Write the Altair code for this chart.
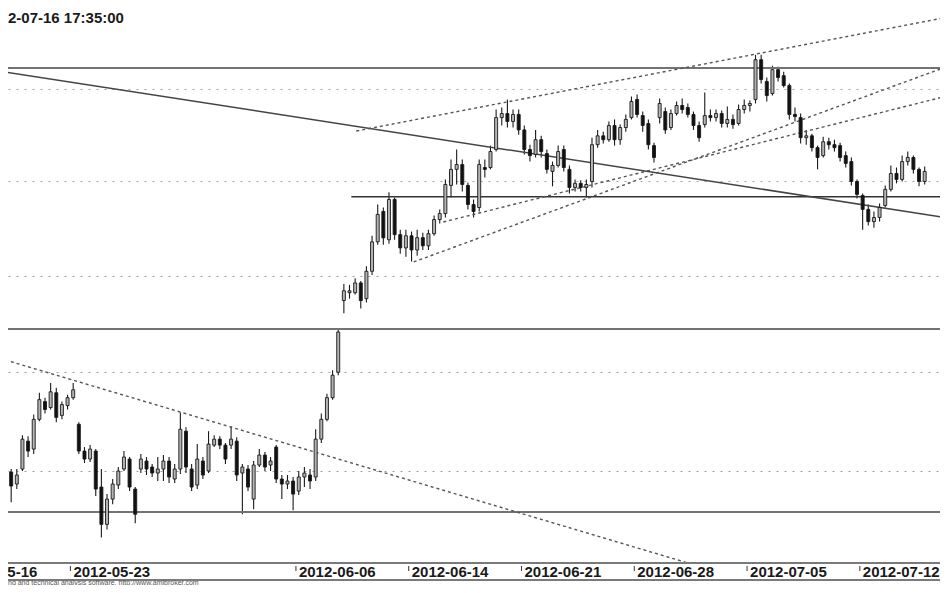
import altair as alt
import pandas as pd

# ---------------- data (intraday candles, 4 bars per trading day) ----------------
bar_index = list(range(8, 172))

open_ = [
    2116, 2099.5, 2093.5, 2101, 2115, 2111, 2126, 2135, 2132, 2139.5,
    2128, 2133, 2137, 2123.5, 2110, 2106, 2110, 2092, 2073.5, 2086,
    2093, 2101, 2106, 2091, 2101, 2105, 2102, 2099, 2101, 2105,
    2096, 2101, 2120, 2101, 2093, 2105, 2100, 2113, 2116, 2113,
    2113, 2115, 2099, 2101, 2086, 2103, 2108, 2103, 2112, 2096,
    2093.5, 2095, 2090, 2097, 2098, 2097, 2116, 2126, 2137, 2150,
    2187, 2191.1, 2191.1, 2196.2, 2188, 2202.3, 2217.8, 2233.9, 2218.9, 2240.3,
    2221.6, 2214.6, 2221.0, 2213.5, 2220.0, 2215.7, 2222.1, 2229.6, 2232.8, 2247.8,
    2256.4, 2259.0, 2247.8, 2237.6, 2236.0, 2257.4, 2257.4, 2267.1, 2284.4, 2286.6,
    2282.3, 2286.1, 2277.7, 2267.1, 2264.4, 2272.4, 2264.9, 2255.3, 2258.5, 2267.1,
    2256.4, 2246.7, 2248.9, 2246.7, 2249.9, 2269.7, 2274.5, 2272.4, 2280.1, 2272.4,
    2279.0, 2284.4, 2294.3, 2285.5, 2281.2, 2269.2, 2284.4, 2287.7, 2279.0, 2286.6,
    2291.0, 2289.9, 2286.1, 2280.1, 2280.6, 2285.5, 2284.4, 2286.6, 2281.2, 2283.4,
    2281.2, 2288.8, 2291.0, 2294.3, 2316.1, 2304.1, 2297.5, 2310.6, 2307.3, 2301.9,
    2286.1, 2284.4, 2273.5, 2274.5, 2268.1, 2263.8, 2271.3, 2269.7, 2269.2, 2263.8,
    2260.6, 2249.9, 2242.4, 2235.0, 2228.5, 2230.7, 2237.1, 2245.7, 2254.2, 2251.0,
    2260.6, 2262.8, 2256.4, 2249.9,
]

high = [
    2120, 2101, 2101, 2118, 2117.5, 2128.5, 2139.5, 2137, 2144.5, 2142,
    2135, 2138.5, 2144.5, 2124.5, 2112, 2113, 2111, 2101, 2088.5, 2096,
    2102, 2110, 2107, 2092, 2108.5, 2107, 2103.5, 2107, 2108, 2107,
    2103.5, 2129.5, 2122, 2103.5, 2113.5, 2107, 2120, 2118, 2117.5, 2114,
    2122.5, 2117, 2103.5, 2103, 2105, 2111, 2109.5, 2107, 2113, 2098,
    2098, 2097, 2100, 2102, 2101, 2121, 2129, 2139, 2151, 2172.7,
    2195.7, 2195.2, 2198.7, 2197.2, 2204.9, 2221.0, 2237.6, 2236.0, 2244.1, 2241.4,
    2224.2, 2224.2, 2223.2, 2224.2, 2222.6, 2224.2, 2231.7, 2235.0, 2251.0, 2261.7,
    2267.1, 2261.7, 2249.4, 2240.3, 2261.7, 2261.7, 2269.2, 2288.8, 2289.9, 2294.3,
    2288.8, 2288.8, 2280.1, 2269.7, 2277.7, 2274.5, 2267.1, 2260.6, 2269.2, 2269.2,
    2258.5, 2251.0, 2250.5, 2251.0, 2273.5, 2277.7, 2276.7, 2282.3, 2283.4, 2280.6,
    2286.1, 2295.9, 2297.0, 2287.7, 2283.4, 2270.8, 2294.8, 2289.9, 2288.8, 2293.2,
    2294.8, 2292.1, 2287.7, 2282.3, 2298.1, 2288.8, 2288.8, 2288.3, 2290.4, 2286.1,
    2291.5, 2294.3, 2293.7, 2318.8, 2318.8, 2306.3, 2312.8, 2312.2, 2309.5, 2303.0,
    2289.9, 2286.6, 2277.7, 2275.6, 2269.2, 2274.0, 2273.5, 2272.4, 2270.8, 2266.0,
    2262.8, 2251.0, 2243.5, 2237.6, 2233.9, 2238.2, 2247.8, 2258.5, 2257.4, 2263.8,
    2266.0, 2263.8, 2257.4, 2257.9,
]

low = [
    2103.5, 2084.5, 2091, 2100, 2107, 2108.5, 2125, 2129, 2131, 2124.5,
    2126, 2131, 2136, 2108.5, 2104, 2104.5, 2087.5, 2067, 2071, 2083.5,
    2091, 2100, 2090, 2074, 2099, 2098, 2097, 2095, 2095, 2094,
    2094, 2098.5, 2099, 2090, 2091, 2096, 2099, 2112, 2111, 2103.5,
    2111, 2095, 2078.5, 2090, 2081, 2102, 2100, 2100, 2094, 2086,
    2091, 2080.5, 2088, 2092, 2091, 2095, 2114, 2125, 2136, 2148.5,
    2180.4, 2188, 2190.1, 2182.9, 2186, 2200.3, 2216.2, 2216.2, 2216.8, 2218.9,
    2211.5, 2209.9, 2207.4, 2210.5, 2213.5, 2213.5, 2221.0, 2227.5, 2230.7, 2241.4,
    2248.3, 2244.6, 2235.0, 2230.7, 2233.9, 2252.1, 2256.4, 2266.0, 2280.1, 2279.0,
    2279.0, 2275.1, 2264.4, 2260.6, 2262.8, 2262.8, 2254.2, 2247.3, 2257.4, 2255.3,
    2243.5, 2244.6, 2244.6, 2241.4, 2246.7, 2268.1, 2270.3, 2271.3, 2269.2, 2269.7,
    2276.7, 2283.4, 2284.4, 2276.7, 2267.1, 2260.1, 2281.2, 2275.6, 2277.7, 2285.5,
    2286.6, 2284.4, 2277.7, 2271.3, 2279.0, 2282.3, 2282.3, 2279.0, 2279.0, 2278.4,
    2280.1, 2286.6, 2287.7, 2292.1, 2303.0, 2293.2, 2296.4, 2304.1, 2300.8, 2283.4,
    2282.3, 2270.3, 2269.7, 2266.0, 2256.4, 2262.8, 2267.1, 2266.0, 2260.6, 2257.4,
    2247.8, 2240.8, 2224.2, 2226.4, 2225.3, 2228.5, 2236.0, 2244.6, 2248.9, 2249.9,
    2258.5, 2254.2, 2247.3, 2248.3,
]

close = [
    2106, 2092.5, 2098, 2116, 2110, 2126, 2136, 2131, 2140, 2127,
    2133.5, 2137, 2141, 2110, 2106, 2111, 2091, 2073.5, 2086, 2093.5,
    2100, 2107, 2092, 2078.5, 2106, 2101, 2099, 2101, 2105, 2097,
    2101, 2121, 2102, 2092, 2106, 2098, 2113.5, 2116, 2113, 2106,
    2116, 2098, 2102, 2092, 2103, 2108, 2102, 2105, 2096, 2093.5,
    2095, 2088.5, 2097, 2099, 2095, 2116, 2126, 2137, 2148.5, 2170.7,
    2192.1, 2192.1, 2196.2, 2187, 2202.3, 2217.8, 2232.3, 2219.9, 2240.3, 2221.6,
    2214.6, 2221.0, 2213.5, 2220.0, 2215.7, 2222.1, 2229.6, 2232.8, 2248.3, 2256.4,
    2259.0, 2248.3, 2237.6, 2233.9, 2259.0, 2256.4, 2266.0, 2284.4, 2286.6, 2282.3,
    2286.1, 2277.7, 2267.1, 2263.8, 2272.4, 2266.0, 2256.4, 2258.5, 2266.0, 2257.4,
    2246.7, 2248.9, 2246.7, 2248.3, 2269.7, 2274.5, 2272.4, 2280.1, 2272.4, 2279.0,
    2283.4, 2293.2, 2286.1, 2280.1, 2269.7, 2262.8, 2292.1, 2277.7, 2286.6, 2291.0,
    2288.8, 2286.1, 2280.1, 2273.5, 2285.5, 2284.4, 2286.6, 2281.2, 2283.4, 2280.6,
    2288.8, 2291.0, 2292.1, 2316.1, 2305.2, 2296.4, 2310.6, 2306.3, 2301.9, 2286.1,
    2285.0, 2273.5, 2274.5, 2268.1, 2262.8, 2271.3, 2269.7, 2268.1, 2262.8, 2259.6,
    2249.9, 2243.0, 2235.0, 2228.5, 2230.7, 2236.0, 2245.7, 2254.2, 2251.0, 2260.6,
    2262.8, 2256.4, 2249.9, 2255.3,
]

# x-axis date labels (first bar of each labelled day)
date_labels = ["2012-05-16", "2012-05-23", "2012-06-06", "2012-06-14",
               "2012-06-21", "2012-06-28", "2012-07-05", "2012-07-12"]
date_bar = [-0.5, 19.5, 59.5, 79.5, 99.5, 119.5, 139.5, 159.5]

grid_prices = [2100, 2150, 2200, 2250, 2300]

# horizontal levels spanning the whole chart
level_prices = [2311.5, 2172.2, 2079.6]
# horizontal level starting mid-chart
support_bar = [69.32, 174.24]
support_price = [2241.8, 2241.8]

# solid down trend line
solid_bar1, solid_price1 = [7.92], [2309.3]
solid_bar2, solid_price2 = [174.24], [2230.9]

# dotted trend lines
dot_bar1 = [7.92, 70.20, 80.38, 85.64]
dot_price1 = [2156.3, 2277.1, 2207.2, 2228.3]
dot_bar2 = [130.73, 174.24, 174.24, 174.24]
dot_price2 = [2053.1, 2339.2, 2311.5, 2295.6]

title_text = ["2-07-16 17:35:00"]
footer_text = ["ng and technical analysis software. http://www.amibroker.com"]

# ---------------- chart ----------------
W, H = 932, 555

df = pd.DataFrame({"bar": bar_index, "open": open_, "high": high,
                   "low": low, "close": close})
df["dir"] = ["up" if c >= o else "down" for o, c in zip(open_, close)]

xs = alt.Scale(domain=[9.325, 172.83], nice=False, zero=False)
ys = alt.Scale(type="log", domain=[2054.5, 2344.8], nice=False)
y_axis = alt.Axis(values=grid_prices, grid=True, labels=False, ticks=False,
                  domain=False, title=None, gridColor="#a0a0a0",
                  gridDash=[2, 6], gridWidth=1)


def X(field):
    return alt.X(field, type="quantitative", scale=xs, axis=None)


def Y(field):
    return alt.Y(field, type="quantitative", scale=ys, axis=y_axis)


wicks = alt.Chart(df).mark_rule(color="#1a1a1a", strokeWidth=1.1, clip=True).encode(
    x=X("bar"), y=Y("low"), y2="high:Q")

bodies = alt.Chart(df).mark_bar(size=3, stroke="#1a1a1a", strokeWidth=0.9,
                                clip=True).encode(
    x=X("bar"), y=Y("open"), y2="close:Q",
    fill=alt.Fill("dir:N", scale=alt.Scale(domain=["up", "down"],
                                           range=["#b4b4b4", "#111111"]),
                  legend=None))

levels = alt.Chart(pd.DataFrame({"price": level_prices})).mark_rule(
    color="#737373", strokeWidth=2).encode(
    y=Y("price"), x=alt.value(0), x2=alt.value(W))

support = alt.Chart(pd.DataFrame({"bar": support_bar[:1], "bar2": support_bar[1:],
                                  "price": support_price[:1]})).mark_rule(
    color="#333333", strokeWidth=1.5, clip=True).encode(
    x=X("bar"), x2="bar2:Q", y=Y("price"))

solid_trend = alt.Chart(pd.DataFrame({"bar": solid_bar1, "price": solid_price1,
                                      "bar2": solid_bar2, "price2": solid_price2})
                        ).mark_rule(color="#444444", strokeWidth=1.5, clip=True).encode(
    x=X("bar"), x2="bar2:Q", y=Y("price"), y2="price2:Q")

dotted_trend = alt.Chart(pd.DataFrame({"bar": dot_bar1, "price": dot_price1,
                                       "bar2": dot_bar2, "price2": dot_price2})
                         ).mark_rule(color="#555555", strokeWidth=1.4,
                                     strokeDash=[3, 3], clip=True).encode(
    x=X("bar"), x2="bar2:Q", y=Y("price"), y2="price2:Q")

band = alt.Chart(pd.DataFrame({"yy": [0]})).mark_rule(
    color="#7a7a7a", strokeWidth=2).encode(
    y=alt.value(H), x=alt.value(0), x2=alt.value(W))
band2 = alt.Chart(pd.DataFrame({"yy": [0]})).mark_rule(
    color="#7a7a7a", strokeWidth=2).encode(
    y=alt.value(H + 17), x=alt.value(0), x2=alt.value(W))

dates_df = pd.DataFrame({"bar": date_bar, "label": date_labels})
date_ticks = alt.Chart(dates_df).mark_rule(color="#333333", strokeWidth=1).encode(
    x=X("bar"), y=alt.value(H + 3), y2=alt.value(H + 8))
date_text = alt.Chart(dates_df).mark_text(
    align="left", baseline="alphabetic", dx=3, font="Liberation Sans",
    fontWeight="bold", fontSize=15, color="#1a1a1a").encode(
    x=X("bar"), y=alt.value(H + 13.5), text="label:N")

title = alt.Chart(pd.DataFrame({"t": title_text})).mark_text(
    align="left", baseline="alphabetic", font="Liberation Sans",
    fontWeight="bold", fontSize=15, color="#1a1a1a").encode(
    x=alt.value(0), y=alt.value(15), text="t:N")

footer = alt.Chart(pd.DataFrame({"t": footer_text})).mark_text(
    align="left", baseline="alphabetic", font="Liberation Sans",
    fontSize=7, color="#555555").encode(
    x=alt.value(0), y=alt.value(H + 22), text="t:N")

chart = alt.layer(
    wicks, levels, support, solid_trend, dotted_trend, bodies,
    band, band2, date_ticks, date_text, title, footer
).properties(
    width=W, height=H, autosize="none",
    padding={"left": 0, "top": 0, "right": 0, "bottom": 22},
    background="white"
).configure_view(stroke=None)

chart.save("out.html", embed_options={"renderer": "svg", "actions": False})
